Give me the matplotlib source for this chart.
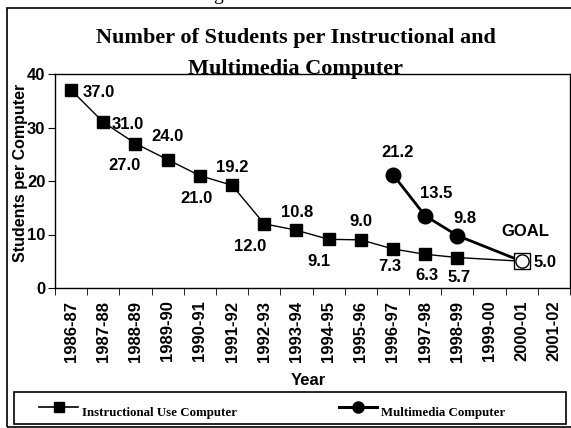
import matplotlib.pyplot as plt
from matplotlib.lines import Line2D
from matplotlib.patches import Rectangle

years = ['1986-87', '1987-88', '1988-89', '1989-90', '1990-91', '1991-92',
         '1992-93', '1993-94', '1994-95', '1995-96', '1996-97', '1997-98',
         '1998-99', '1999-00', '2000-01', '2001-02']

instr_idx = [0, 1, 2, 3, 4, 5, 6, 7, 8, 9, 10, 11, 12, 14]
instr_vals = [37.0, 31.0, 27.0, 24.0, 21.0, 19.2, 12.0, 10.8, 9.1, 9.0, 7.3, 6.3, 5.7, 5.0]
multi_idx = [10, 11, 12, 14]
multi_vals = [21.2, 13.5, 9.8, 5.0]
goal_idx = 14
goal_val = 5.0

# label offsets in pixels (dx, dy up)
instr_off = [(28, -2), (24, -2), (-11, -22), (0, 23), (-3, -23), (0, 18),
             (-14, -23), (1, 18), (-10, -22), (0, 18), (-3, -18), (2, -21), (2, -20)]
multi_off = [(5, 22), (11, 22), (8, 17)]

sans = 'Liberation Sans'
serif = 'Liberation Serif'

W, H = 571, 428
fig = plt.figure(figsize=(W / 100, H / 100), dpi=100)
ax = fig.add_axes([55 / W, 1 - 288 / H, 515 / W, 214 / H])

x = [i + 0.5 for i in instr_idx]
ax.plot(x, instr_vals, color='black', lw=1.0, marker='s', ms=9, mfc='black', mec='black')
xm = [i + 0.5 for i in multi_idx]
ax.plot(xm, multi_vals, color='black', lw=2.0, marker='o', ms=10.5, mfc='black', mec='black')
# goal marker
ax.plot([goal_idx + 0.5], [goal_val], marker='s', ms=11, mfc='white', mec='black', mew=1, ls='none', zorder=5)
ax.plot([goal_idx + 0.5], [goal_val], marker='o', ms=9.5, mfc='white', mec='black', mew=1, ls='none', zorder=6)

k = 0.72
fs = 12
for i, v, (dx, dy) in zip(instr_idx, instr_vals, instr_off):
    ax.annotate(f'{v:.1f}', (i + 0.5, v), xytext=(dx * k, dy * k), textcoords='offset points',
                ha='center', va='center', fontsize=fs, fontweight='bold', family=sans)
for i, v, (dx, dy) in zip(multi_idx, multi_vals, multi_off):
    ax.annotate(f'{v:.1f}', (i + 0.5, v), xytext=(dx * k, dy * k), textcoords='offset points',
                ha='center', va='center', fontsize=fs, fontweight='bold', family=sans)
ax.annotate('5.0', (goal_idx + 0.5, goal_val), xytext=(12 * k, -1 * k), textcoords='offset points',
            ha='left', va='center', fontsize=fs, fontweight='bold', family=sans)
ax.annotate('GOAL', (goal_idx + 0.5, goal_val), xytext=(4 * k, 30 * k), textcoords='offset points',
            ha='center', va='center', fontsize=fs, fontweight='bold', family=sans)

ax.set_xlim(0, len(years))
ax.set_ylim(0, 40)
ax.set_yticks([0, 10, 20, 30, 40])
ax.set_xticks([i + 0.5 for i in range(len(years))])
ax.set_xticklabels(years, rotation=90)
ax.set_xticks(range(len(years) + 1), minor=True)
ax.tick_params(axis='x', which='major', length=0, pad=9)
ax.tick_params(axis='x', which='minor', length=5, direction='out')
ax.tick_params(axis='y', length=5, direction='out', pad=2)
for lab in ax.get_xticklabels() + ax.get_yticklabels():
    lab.set_fontfamily(sans)
    lab.set_fontweight('bold')
    lab.set_fontsize(12)
for s in ax.spines.values():
    s.set_linewidth(1.0)

ax.set_xlabel('Year', fontsize=12, fontweight='bold', family=sans)
ax.xaxis.set_label_coords((308 - 55) / 515, (288 - 373) / 214)
fig.text(21 / W, 1 - 173 / H, 'Students per Computer', rotation=90, ha='center', va='center',
         fontsize=11.5, fontweight='bold', family=sans)

fig.text(296 / W, 1 - 38 / H, 'Number of Students per Instructional and', ha='center', va='center',
         fontsize=16, fontweight='bold', family=serif)
fig.text(295 / W, 1 - 69 / H, 'Multimedia Computer', ha='center', va='center',
         fontsize=16, fontweight='bold', family=serif)
fig.text(213 / W, 1.0, 'g', ha='left', va='baseline', fontsize=14, family=serif)

# outer frame and legend box
fig.patches.append(Rectangle((7 / W, 1 - 427 / H), 1.0, 419 / H, transform=fig.transFigure,
                             fill=False, ec='black', lw=1.2))
fig.patches.append(Rectangle((14 / W, 1 - 424 / H), 552 / W, 32 / H, transform=fig.transFigure,
                             fill=False, ec='black', lw=1.2))
ly = 1 - 407 / H
fig.lines.append(Line2D([39 / W, 78 / W], [ly, ly], transform=fig.transFigure, color='black', lw=1.2))
fig.lines.append(Line2D([59 / W], [ly], transform=fig.transFigure, color='black', marker='s', ms=7))
fig.lines.append(Line2D([339 / W, 377 / W], [ly, ly], transform=fig.transFigure, color='black', lw=2.2))
fig.lines.append(Line2D([358 / W], [ly], transform=fig.transFigure, color='black', marker='o', ms=8))
fig.text(82 / W, 1 - 413 / H, 'Instructional Use Computer', ha='left', va='center',
         fontsize=9.3, fontweight='bold', family=serif)
fig.text(381 / W, 1 - 413 / H, 'Multimedia Computer', ha='left', va='center',
         fontsize=9.3, fontweight='bold', family=serif)

fig.savefig('out.png', dpi=100)
